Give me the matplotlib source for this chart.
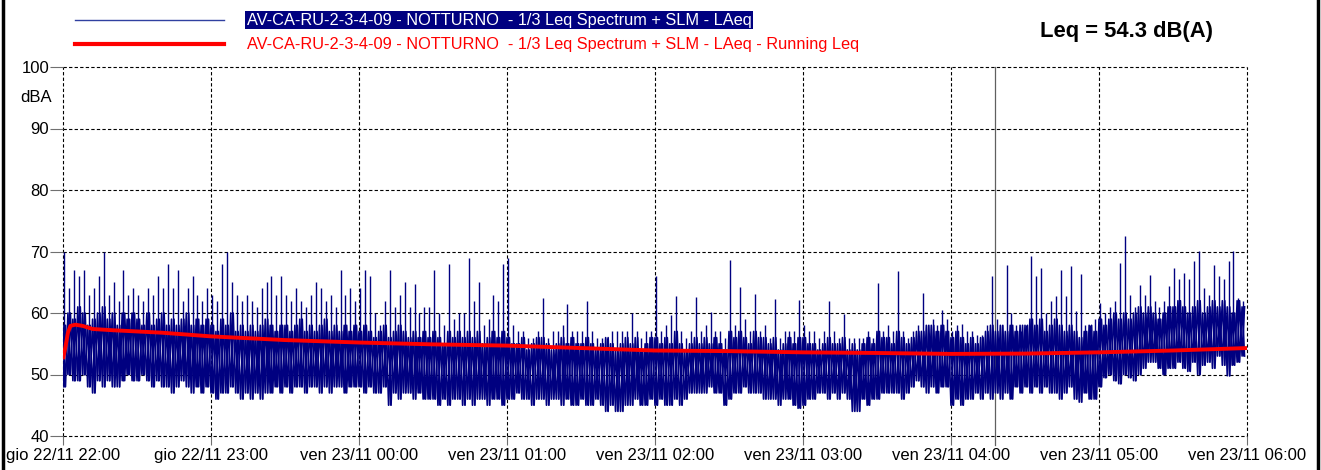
import numpy as np
import matplotlib
matplotlib.use("Agg")
import matplotlib.pyplot as plt
from matplotlib.lines import Line2D

plt.rcParams['font.family'] = ['Liberation Sans', 'DejaVu Sans']

# LAeq in 2 minute bins, one row = half an hour (22:00 -> 06:00)
# lo = bottom of the band, top = top of the dense band, peak = highest spike
lo = [
    48, 50, 49, 49, 50, 48, 47, 49, 48, 49, 48, 48, 49, 50, 49,
    49, 50, 49, 48, 49, 48, 48, 47, 48, 49, 48, 47, 48, 47, 48,
    47, 46, 47, 47, 48, 47, 46, 47, 46, 47, 46, 47, 47, 48, 47,
    48, 47, 48, 48, 47, 48, 48, 47, 48, 47, 48, 48, 47, 48, 48,
    48, 47, 48, 47, 47, 48, 45, 47, 46, 47, 47, 46, 47, 46, 46,
    46, 45, 46, 45, 46, 46, 45, 46, 45, 46, 46, 45, 46, 46, 45,
    46, 46, 47, 46, 46, 45, 46, 46, 45, 46, 46, 45, 46, 45, 45,
    46, 45, 45, 46, 45, 44, 45, 44, 44, 45, 45, 46, 45, 45, 46,
    45, 46, 45, 45, 46, 45, 46, 47, 47, 47, 47, 48, 47, 47, 45,
    46, 47, 47, 48, 47, 47, 47, 46, 46, 46, 45, 46, 46, 45, 44.5,
    45, 46, 46, 47, 47, 46, 47, 46, 47, 46, 44, 44, 46, 45, 46,
    46, 47, 47, 47, 47, 46, 47, 48, 49, 48, 47, 48, 47, 48, 48,
    45, 46, 45, 46, 46, 47, 46, 47, 46, 47, 46, 47, 46, 48, 47,
    48, 47, 48, 47, 48, 47, 47, 46, 47, 48, 46, 45.5, 47, 46, 46,
    48, 49.5, 50, 49, 48.5, 50, 49.5, 49, 50, 51, 52, 52, 51, 50, 51,
    51, 52, 51, 50.5, 52, 50, 51.5, 52, 51, 53, 51.5, 49.8, 51.5, 52, 53,
]
top = [
    58, 60, 59, 61, 60, 58, 59, 60, 61, 59, 60, 58, 60, 59, 60,
    59, 58, 60, 58, 59, 60, 58, 59, 58, 59, 60, 58, 59, 58, 59,
    58, 57, 59, 58, 60, 57, 58, 57, 58, 57, 58, 59, 58, 57, 58,
    58, 57, 58, 59, 57, 58, 57, 58, 59, 57, 58, 57, 58, 57, 58,
    57, 58, 57, 56, 57, 58, 56, 57, 58, 57, 56, 57, 56, 57, 56,
    57, 56, 55, 57, 56, 57, 56, 57, 56, 57, 55, 56, 57, 56, 57,
    56, 55, 55, 56, 54, 55, 56, 56, 55, 54, 55, 56, 55, 56, 55,
    55, 56, 55, 54, 55, 56, 55, 54, 55, 56, 55, 56, 54, 55, 56,
    56, 55, 56, 55, 57, 55, 54, 55, 56, 55, 56, 55, 56, 55, 54,
    57, 56, 57, 56, 55, 57, 56, 56, 55, 56, 54, 55, 56, 55, 56,
    56, 55, 55, 54, 55, 56, 55, 55, 56, 54, 55, 54, 55, 56, 55,
    57, 56, 56, 55, 57, 56, 55, 56, 57, 57, 58, 58, 57, 58, 57,
    56, 57, 56, 55, 56, 55, 56, 57, 58, 57, 58, 57, 58, 57, 58,
    58, 59, 58, 59, 57, 58, 59, 58, 57, 58, 57, 56, 57, 58, 57,
    59, 58, 59, 60, 59, 60, 59, 60, 61, 60, 61, 60, 59, 60, 61,
    61, 62, 61, 60, 61, 62, 60, 61, 62, 61, 62, 61, 60, 62, 61,
]
peak = [
    70, 64, 67, 66, 67, 63, 64, 66, 70, 63, 65, 62, 67, 63, 64,
    63, 62, 64, 63, 66, 64, 68, 64, 67, 62, 64, 66, 63, 62, 64,
    63, 62, 68, 70, 65, 63, 62, 63, 62, 61, 64, 65, 66, 63, 66,
    63, 62, 64, 62, 61, 63, 65, 64, 62, 63, 61, 67, 63, 64, 62,
    64, 67, 66, 60, 58, 62, 67, 61, 63, 65, 61, 64.7, 60, 61, 61,
    67, 60, 58, 68, 59, 60, 60, 69, 62, 65, 58, 59, 63, 62, 68,
    69, 58, 57, 57, 56, 56, 57, 62.5, 56, 57, 57, 58, 61.5, 57, 57,
    57, 62, 57, 56, 56, 56, 57, 57, 57, 57, 60, 57, 56, 57, 57,
    66, 57, 58, 59.6, 62.8, 57, 56, 57, 62.6, 57, 58, 60.2, 57, 57, 56,
    68.6, 58, 64.3, 59, 57, 63.1, 57, 58, 56, 62.3, 56, 57, 57, 57, 62.1,
    58, 57, 57, 56, 57, 62, 57, 56, 59.9, 56, 56, 56, 56, 57, 56,
    64.9, 57, 58, 57, 66.9, 57, 56, 57, 58, 63.2, 58, 59, 58, 60.5, 59,
    57, 58, 58.2, 57, 57, 56.5, 56.5, 58, 66, 59, 58, 67.8, 60, 58, 57,
    58, 69.3, 66, 67.3, 60, 62, 62.8, 67, 62.8, 67.6, 60.4, 66.4, 58, 58, 59,
    61.7, 60, 61, 62, 68.2, 72.5, 63, 61, 64.6, 63, 66.2, 62, 61, 62, 64.4,
    67.3, 65.5, 66.5, 65.5, 68.5, 70.1, 64, 63, 67.8, 66, 65.5, 68.5, 70.1, 62.5, 62,
]

# running Leq (minutes from 22:00, dB)
run_t = [0, 1, 2, 3, 5, 8, 12, 20, 30, 40, 50, 60, 75, 90, 105, 120, 150, 180,
         210, 240, 270, 300, 330, 360, 390, 420, 450, 480]
run_v = [52.5, 54.5, 56.8, 57.9, 58.1, 57.9, 57.4, 57.2, 57.0, 56.8, 56.5, 56.2,
         55.9, 55.6, 55.4, 55.2, 54.9, 54.7, 54.3, 53.9, 53.8, 53.6, 53.5, 53.35,
         53.4, 53.6, 53.9, 54.3]

hour_labels = ["gio 22/11 22:00", "gio 22/11 23:00", "ven 23/11 00:00",
               "ven 23/11 01:00", "ven 23/11 02:00", "ven 23/11 03:00",
               "ven 23/11 04:00", "ven 23/11 05:00", "ven 23/11 06:00"]
y_ticks = [40, 50, 60, 70, 80, 90, 100]
cursor_min = 378
name = "AV-CA-RU-2-3-4-09 - NOTTURNO  - 1/3 Leq Spectrum + SLM - LAeq"
leq_text = "Leq = 54.3 dB(A)"

navy = "#000080"

fig = plt.figure(figsize=(13.21, 4.70), dpi=100)
ax = fig.add_axes([63/1321, 1-436/470, (1247-63)/1321, (436-67)/470])

# dense band: two zigzags in opposite phase between lo and top, spikes as vlines
t = np.arange(len(lo))*2
body_t = np.column_stack([t, t+1]).ravel()
ax.plot(body_t, np.column_stack([lo, top]).ravel(), color=navy, lw=1.2, zorder=3)
ax.plot(body_t, np.column_stack([top, lo]).ravel(), color=navy, lw=1.2, zorder=3)
ax.vlines(t+0.5, lo, peak, color=navy, lw=1.0, zorder=3)
ax.plot(run_t, run_v, color="#ff0000", lw=2.8, zorder=4, solid_capstyle="butt")

ax.set_xlim(0, 480)
ax.set_ylim(40, 100)
ax.set_xticks(np.arange(0, 481, 60))
ax.set_xticklabels(hour_labels, fontsize=12)
ax.set_yticks(y_ticks)
ax.set_yticklabels([str(v) for v in y_ticks], fontsize=12)
for s in ax.spines.values():
    s.set_visible(False)
ax.tick_params(axis="x", length=6.5, width=0.8, color="#707070", pad=2)
ax.tick_params(axis="y", length=9.5, width=0.8, color="#707070", pad=0.5)
ax.grid(True, color="black", lw=0.8, linestyle=(0, (3, 2)))
for gl in ax.get_xgridlines() + ax.get_ygridlines():
    gl.set_clip_on(False)
ax.set_axisbelow(True)

# cursor line
ax.axvline(cursor_min, ymin=-0.025, ymax=1, color="#606060", lw=0.9, clip_on=False, zorder=2)

fig.text(36/1321, 1-98/470, "dBA", fontsize=12, ha="center", va="center")

# legend drawn by hand, like the original software
fig.add_artist(Line2D([75/1321, 224/1321], [1-20/470, 1-20/470], color="#3040a0", lw=1.0))
fig.add_artist(Line2D([75/1321, 224/1321], [1-44/470, 1-44/470], color="#ff0000", lw=3))
fig.text(247/1321, 1-20/470, name, fontsize=11.8, color="white", va="center",
         bbox=dict(boxstyle="square,pad=0.1", fc=navy, ec="none"))
fig.text(247/1321, 1-44/470, name + " - Running Leq", fontsize=11.8, color="#ff0000", va="center")
fig.text(1127/1321, 1-32/470, leq_text, fontsize=15.8, fontweight="bold", ha="center", va="center")

# frame of the picture
fig.add_artist(Line2D([3/1321, 3/1321], [0, 1], color="black", lw=2.5))
fig.add_artist(Line2D([1318/1321, 1318/1321], [0, 1], color="black", lw=2.5))

fig.savefig("out.png", dpi=100)
